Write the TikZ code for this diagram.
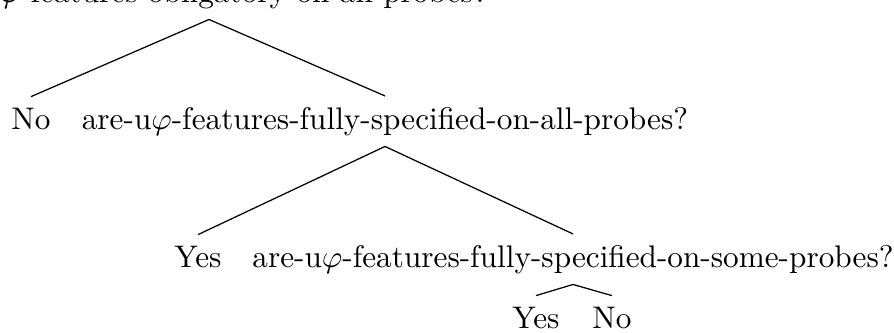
\documentclass[tikz,border=0pt]{standalone}
\usepackage{tikz}
\usetikzlibrary{positioning}

\begin{document}
\begin{tikzpicture}[x=0.32pt,y=-0.32pt,-,thin,
     every node/.style={anchor=base}]
  \useasboundingbox (0,0) rectangle (894,332);

  % questions and answers, placed on their baselines
  \node (q1) at (209,2) {are-u$\varphi$-features-obligatory-on-all-probes?};
  \node (no1) at (31,129) {No};
  \node (q2) at (385,129) {are-u$\varphi$-features-fully-specified-on-all-probes?};
  \node (yes2) at (198,267) {Yes};
  \node (q3) at (573,267) {are-u$\varphi$-features-fully-specified-on-some-probes?};
  \node (yes3) at (536,328) {Yes};
  \node (no3) at (612,328) {No};

  \path
   (q1.south) edge (no1.north)
   (q1.south) edge (q2.north)
   (q2.south) edge (yes2.north)
   (q2.south) edge (q3.north)
   (q3.south) edge (yes3.north)
   (q3.south) edge (no3.north);
\end{tikzpicture}
\end{document}
